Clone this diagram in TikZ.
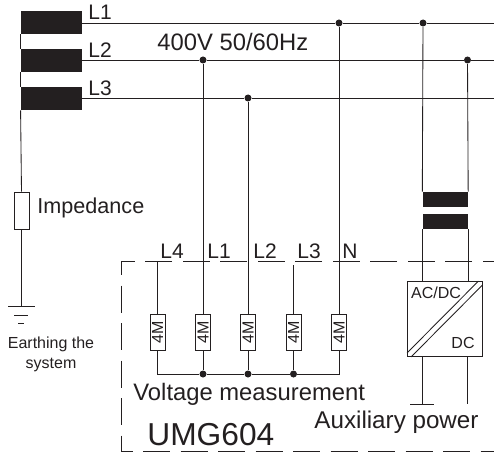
\documentclass[tikz,border=0pt]{standalone}
\usepackage{fontspec}
\setmainfont{Liberation Sans}
\definecolor{ink}{HTML}{231F20}
\newcommand{\resval}{\rotatebox{90}{\fontsize{16}{16}\selectfont 4M}}
\begin{document}
\begin{tikzpicture}[x=1pt,y=-1pt,line width=0.85pt,draw=ink,text=ink,
  phase/.style={shape=rectangle,fill=ink,inner sep=0pt,minimum width=61pt,minimum height=23pt},
  choke/.style={shape=rectangle,fill=ink,inner sep=0pt,minimum width=45pt,minimum height=15pt},
  res/.style={shape=rectangle,draw=ink,fill=white,inner sep=0pt,minimum width=15pt,minimum height=36pt},
  dot/.style={shape=circle,fill=ink,inner sep=0pt,minimum size=7pt},
  lab/.style={anchor=base west,inner sep=0pt,font=\fontsize{21}{24}\selectfont},
  big/.style={lab,font=\fontsize{23.8}{26}\selectfont},
  small/.style={inner sep=0pt,font=\fontsize{16}{20}\selectfont}]
\def\ya{23};
\def\yb{60};
\def\yc{98};
\def\ytop{261.5};
\def\ybot{451};
\def\yres{332};
\def\ybus{374};

\useasboundingbox (0,0) rectangle (494,454);

\draw[dash pattern=on 27pt off 10.5pt,dash phase=15.5pt] (494,\ytop) -- (121,\ytop) -- (121,\ybot) -- (494,\ybot);

\node[phase] (P1) at (51.5,22.5) {};
\node[phase] (P2) at (51.5,60.5) {};
\node[phase] (P3) at (51.5,98.5) {};
\node[lab] (tL1) at (88,20) {L1};
\node[lab] (tL2) at (88,57.5) {L2};
\node[lab] (tL3) at (88,96) {L3};
\node[big] (tV) at (157,51) {400V 50/60Hz};

\coordinate (E1) at (494,\ya);
\coordinate (E2) at (494,\yb);
\coordinate (E3) at (494,\yc);
\node[dot] (J1) at (339,\ya) {};
\node[dot] (J2) at (423,\ya) {};
\node[dot] (J3) at (203,\yb) {};
\node[dot] (J4) at (467.5,\yb) {};
\node[dot] (J5) at (248,\yc) {};
\draw (P1.east |- E1) -- (J1) -- (J2) -- (E1);
\draw (P2.east |- E2) -- (J3) -- (J4) -- (E2);
\draw (P3.east |- E3) -- (J5) -- (E3);

\node[res,minimum height=37pt] (Z) at (21.5,210.5) {};
\node[lab,font=\fontsize{21.6}{24}\selectfont] (tZ) at (37,213) {Impedance};
\draw (P1.south west) -- (P2.north west);
\draw (P2.south west) -- (P3.north west);
\draw (P3.south west) -- (Z.north);

\coordinate (G1) at (21.5,306);
\draw (Z.south) -- (G1);
\draw (8,306) -- (35,306);
\draw (14,315) -- (28,315);
\draw (18,323) -- (24,323);
\node[small,align=center] (tE) at (51,354) {Earthing the\\system};

\node[res] (R1) at (157.5,\yres) {\resval};
\node[res] (R2) at (203,\yres) {\resval};
\node[res] (R3) at (248,\yres) {\resval};
\node[res] (R4) at (293.5,\yres) {\resval};
\node[res] (R5) at (339,\yres) {\resval};

\coordinate (T1) at (157.5,\ytop);
\coordinate (T4) at (293.5,265);
\draw (T1) -- (R1.north);
\draw (J3) -- (R2.north);
\draw (J5) -- (R3.north);
\draw (T4) -- (R4.north);
\draw (J1) -- (R5.north);

\node[dot] (B2) at (203,\ybus) {};
\node[dot] (B3) at (248,\ybus) {};
\node[dot] (B4) at (293.5,\ybus) {};
\draw (R1.south) |- (B2);
\draw (R2.south) -- (B2);
\draw (R3.south) -- (B3);
\draw (R4.south) -- (B4);
\draw (R5.south) |- (B4);
\draw (B2) -- (B3) -- (B4);

\node[lab] (tL4i) at (160,258) {L4};
\node[lab] (tL1i) at (207,258) {L1};
\node[lab] (tL2i) at (253,258) {L2};
\node[lab] (tL3i) at (297,258) {L3};
\node[lab] (tN) at (342,258) {N};

\node[choke] (C1) at (445.25,199.5) {};
\node[choke] (C2) at (445.25,221.5) {};
\node[shape=rectangle,draw=ink,inner sep=0pt,minimum width=74.5pt,minimum height=75pt] (K) at (444.75,319) {};
\draw (J2) -- (C1.north west);
\draw (J4) -- (C1.north east);
\draw (C2.south west) -- (C2.south west |- K.north);
\draw (C2.south east) -- (C2.south east |- K.north);
\draw ([yshift=4pt]K.south west) -- ([xshift=-4pt]K.north east);
\draw ([xshift=4pt]K.south west) -- ([yshift=-4pt]K.north east);
\node[small] (tAC) at (436,293) {AC/DC};
\node[small] (tDC) at (463,343) {DC};

\coordinate (G2) at (422.5,404);
\coordinate (A2) at (467.5,404);
\draw (G2 |- K.south) -- (G2);
\draw (A2 |- K.south) -- (A2);
\draw (410,404) -- (434,404);

\node[big] (tM) at (133,400) {Voltage measurement};
\node[lab,font=\fontsize{24.2}{26}\selectfont] (tA) at (314,428) {Auxiliary power};
\node[lab,font=\fontsize{31.7}{34}\selectfont] (tU) at (147,445) {UMG604};
\end{tikzpicture}
\end{document}
